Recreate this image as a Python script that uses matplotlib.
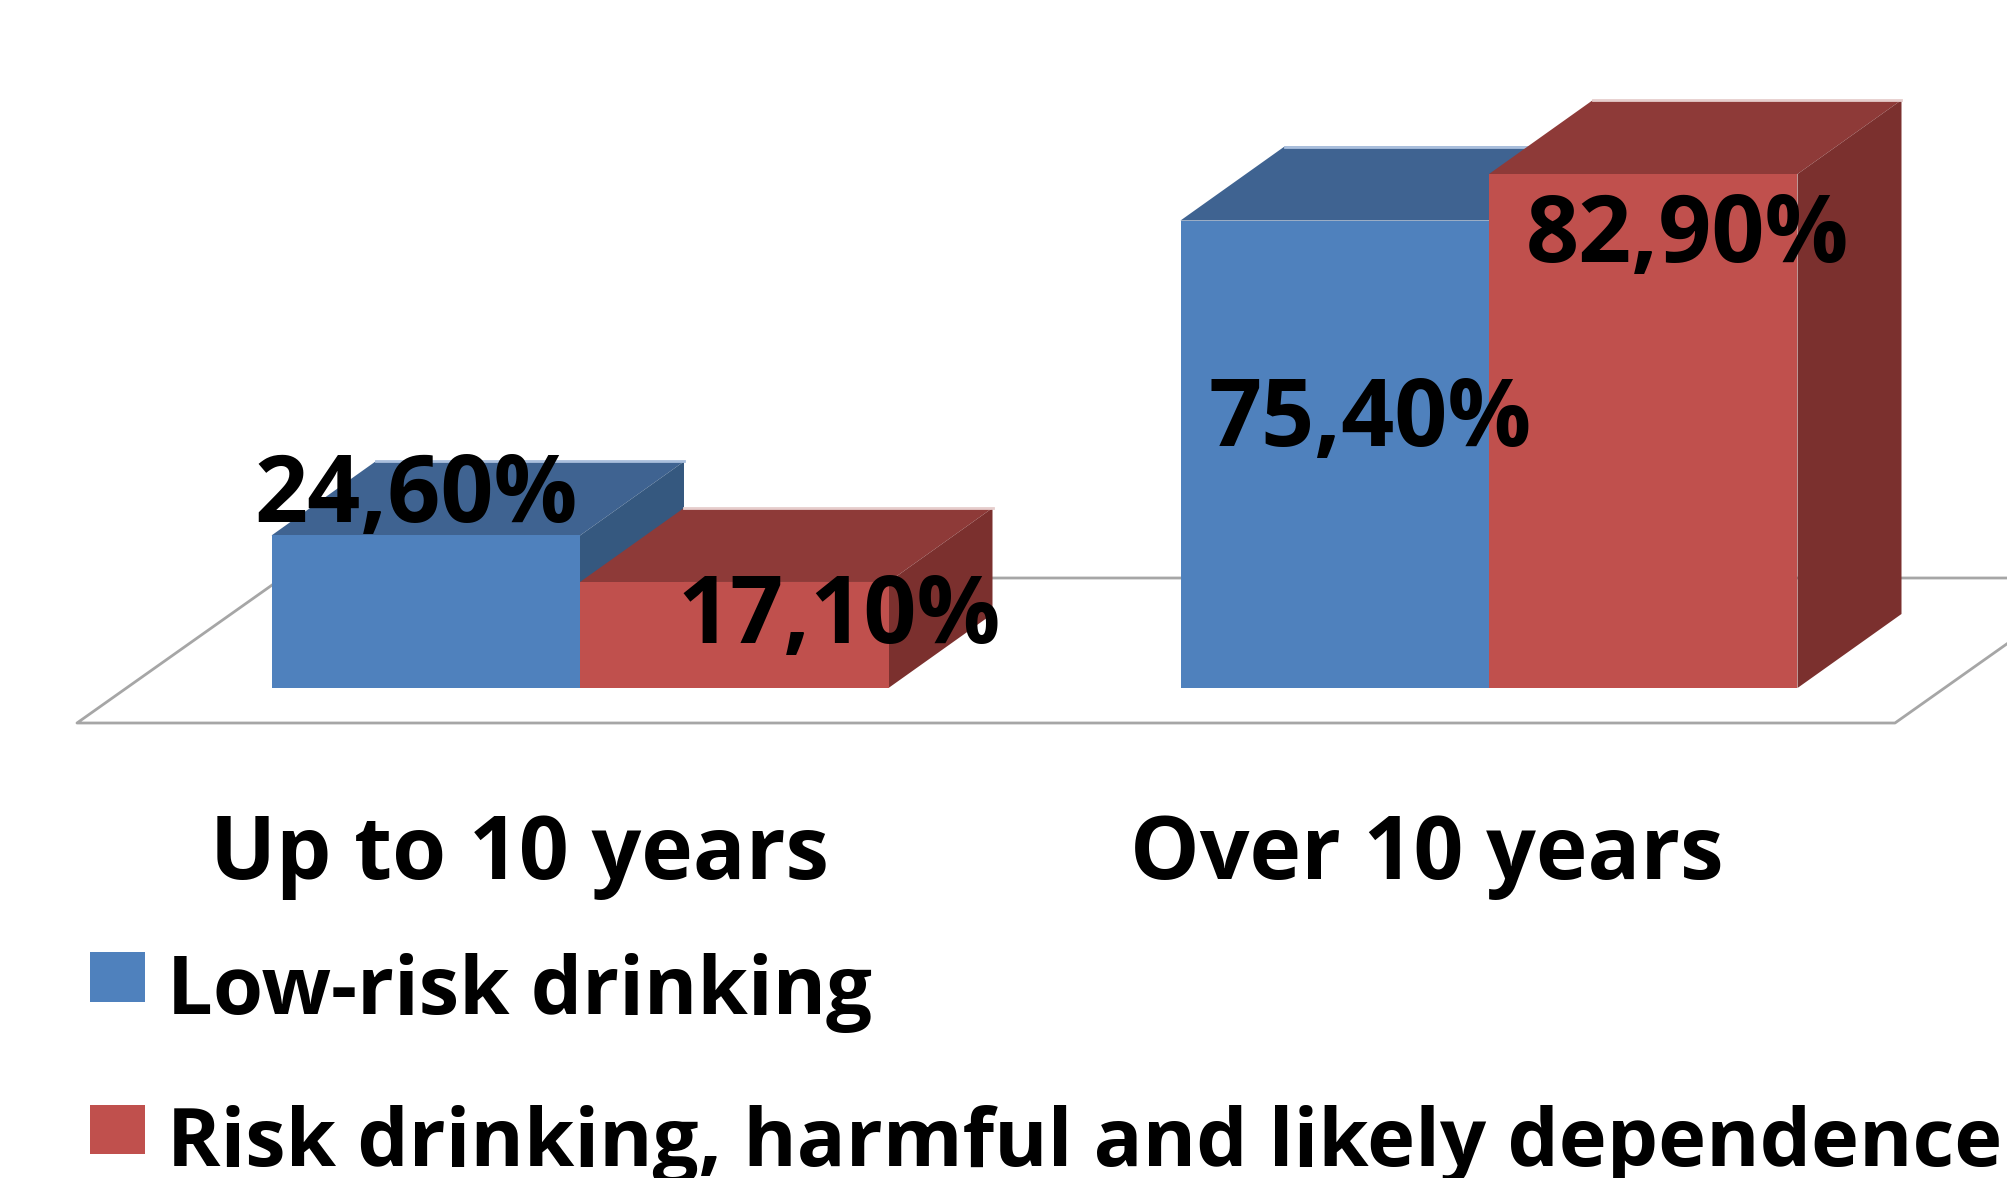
import matplotlib.pyplot as plt
from matplotlib.patches import Polygon

categories = ["Up to 10 years", "Over 10 years"]
series_names = ["Low-risk drinking", "Risk drinking, harmful and likely dependence"]
low_risk = [24.6, 75.4]
risk = [17.1, 82.9]
low_risk_labels = ["24,60%", "75,40%"]
risk_labels = ["17,10%", "82,90%"]

W, H = 2008, 1178
BASE_PX = 688
PX_PER_PCT = 6.2
CAT_PX = [580, 1489]
UNIT_PX = CAT_PX[1] - CAT_PX[0]
BAR_W = 308.5 / UNIT_PX
DX = 104 / UNIT_PX
DY = 74 / PX_PER_PCT

BLUE = ("#4F81BD", "#3F6391", "#35587F", "#A9BFDD")
RED = ("#C0504D", "#8E3A38", "#7B302E", "#E6CDCC")

plt.rcParams["font.family"] = ["Open Sans", "DejaVu Sans"]
plt.rcParams["font.weight"] = "bold"

fig = plt.figure(figsize=(W / 100, H / 100), dpi=100)
ax = fig.add_axes([0, 0, 1, 1])
ax.set_xlim(-CAT_PX[0] / UNIT_PX, (W - CAT_PX[0]) / UNIT_PX)
ax.set_ylim(-(H - BASE_PX) / PX_PER_PCT, BASE_PX / PX_PER_PCT)
ax.axis("off")


def px(x, y):
    return (x - CAT_PX[0]) / UNIT_PX, (BASE_PX - y) / PX_PER_PCT


# floor of the 3D plot
floor_left, floor_back = px(77, 723), px(282, 578)
floor_right, floor_far = px(1895, 723), px(2100, 578)
ax.plot(
    [floor_back[0], floor_left[0], floor_right[0], floor_far[0], floor_back[0]],
    [floor_back[1], floor_left[1], floor_right[1], floor_far[1], floor_back[1]],
    color="#A6A6A6", lw=2, zorder=1,
)


def draw_box(x0, value, colors, z):
    front, top, side, edge = colors
    x1 = x0 + BAR_W
    ax.add_patch(Polygon([(x0, value), (x1, value), (x1 + DX, value + DY), (x0 + DX, value + DY)],
                         closed=True, fc=top, ec="none", zorder=z))
    ax.add_patch(Polygon([(x1, 0), (x1 + DX, DY), (x1 + DX, value + DY), (x1, value)],
                         closed=True, fc=side, ec="none", zorder=z))
    ax.plot([x0 + DX, x1 + DX], [value + DY, value + DY], color=edge, lw=2, zorder=z)


for i, name in enumerate(categories):
    draw_box(i - BAR_W, low_risk[i], BLUE, 2 + i * 0.1)
    draw_box(i, risk[i], RED, 3 + i * 0.1)

blue_bars = ax.bar([i - BAR_W / 2 for i in range(2)], low_risk, BAR_W, color=BLUE[0], zorder=2.5, label=series_names[0])
red_bars = ax.bar([i + BAR_W / 2 for i in range(2)], risk, BAR_W, color=RED[0], zorder=3.5, label=series_names[1])

# value labels sit by hand, as in the original
for label, pos in zip(low_risk_labels + risk_labels, [(416, 522), (1370, 446), (839, 643), (1687, 262)]):
    x, y = px(*pos)
    ax.text(x, y, label, ha="center", va="baseline", fontsize=67, color="black", zorder=5)

for name, pos in zip(categories, [(519, 879), (1427, 879)]):
    x, y = px(*pos)
    ax.text(x, y, name, ha="center", va="baseline", fontsize=63, color="black", zorder=5)

leg = ax.legend(
    handles=[blue_bars, red_bars],
    loc="upper left",
    bbox_to_anchor=(90 / W, 1 - 953 / H),
    frameon=False,
    fontsize=58.5,
    handlelength=0.675,
    handleheight=0.555,
    handletextpad=0.27,
    labelspacing=0.89,
    borderpad=0,
    borderaxespad=0,
)
# swatches sit a little above the text line
for patch in leg.get_patches():
    patch.set_y(patch.get_y() + 6)

fig.savefig("out.png", dpi=100)
